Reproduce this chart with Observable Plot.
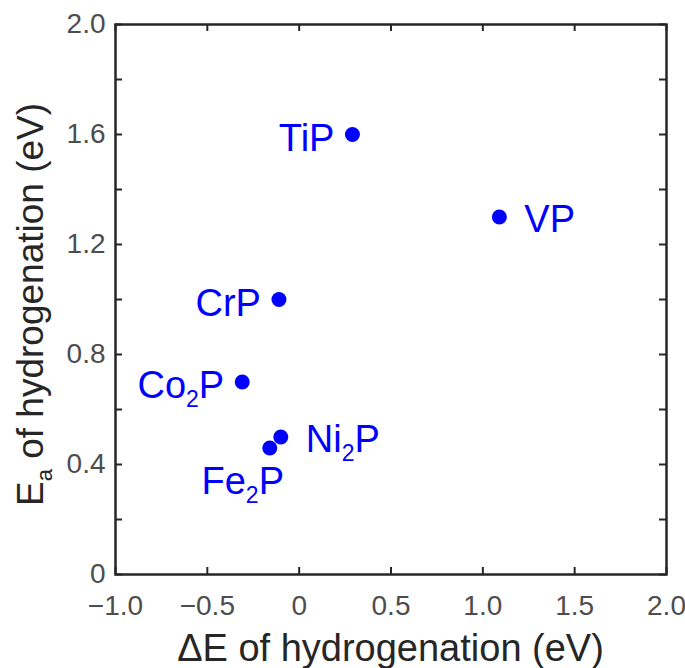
<!DOCTYPE html>
<html>
<head>
<meta charset="utf-8">
<script src="https://cdn.jsdelivr.net/npm/d3@7"></script>
<script src="https://cdn.jsdelivr.net/npm/@observablehq/plot@0.6"></script>
<style>
  html, body { margin: 0; padding: 0; background: #fff; }
  svg { display: block; }
</style>
</head>
<body>
<div id="chart"></div>
<script>
// Data
const names = ["TiP", "VP", "CrP", "Co₂P", "Ni₂P", "Fe₂P"];
const deltaE = [0.29, 1.09, -0.11, -0.31, -0.10, -0.16];
const activationE = [1.60, 1.30, 1.00, 0.70, 0.50, 0.46];

const xTicks = [-1.0, -0.5, 0, 0.5, 1.0, 1.5, 2.0];
const yTicks = [0, 0.2, 0.4, 0.6, 0.8, 1.0, 1.2, 1.4, 1.6, 1.8, 2.0];
const yTickLabels = [0, 0.4, 0.8, 1.2, 1.6, 2.0];

const xTitle = "ΔE of hydrogenation (eV)";
const yTitleMain = "E";
const yTitleSub = "a";
const yTitleRest = " of hydrogenation (eV)";

const leftLabels = ["TiP", "CrP", "Co₂P"];
const rightLabels = ["VP", "Ni₂P"];
const belowLabels = ["Fe₂P"];

const points = names.map((n, i) => ({name: n, x: deltaE[i], y: activationE[i]}));

const fmtX = d => d === 0 ? "0" : (d < 0 ? "\u2212" : "") + Math.abs(d).toFixed(1);
const fmtY = d => d === 0 ? "0" : d.toFixed(1);

const FONT = "'Liberation Sans', Arial, Helvetica, sans-serif";
const AXIS = "#262626";
const TICKTXT = "#4d4d4d";
const BLUE = "#0000ff";
const LABEL_SIZE = 38;
const TICK_SIZE = 28;

const W = 685, H = 668;
const mL = 115, mR = 19, mT = 24, mB = 94;
const plotW = W - mL - mR, plotH = H - mT - mB;
const TL = 7; // inward tick length

const chart = Plot.plot({
  width: W,
  height: H,
  marginLeft: mL,
  marginRight: mR,
  marginTop: mT,
  marginBottom: mB,
  style: {fontFamily: FONT, background: "#fff", overflow: "visible"},
  x: {domain: [-1, 2]},
  y: {domain: [0, 2]},
  marks: [
    // inward ticks on all four sides
    Plot.tickX(xTicks, {x: d => d, insetTop: plotH - TL, stroke: AXIS, strokeWidth: 2}),
    Plot.tickX(xTicks, {x: d => d, insetBottom: plotH - TL, stroke: AXIS, strokeWidth: 2}),
    Plot.tickY(yTicks, {y: d => d, insetRight: plotW - TL, stroke: AXIS, strokeWidth: 2}),
    Plot.tickY(yTicks, {y: d => d, insetLeft: plotW - TL, stroke: AXIS, strokeWidth: 2}),
    // tick labels
    Plot.axisX(xTicks, {anchor: "bottom", tickSize: 0, tickPadding: 21, tickFormat: fmtX, label: null, fontSize: TICK_SIZE, fill: TICKTXT}),
    Plot.axisY(yTickLabels, {anchor: "left", tickSize: 0, tickPadding: 10, tickFormat: fmtY, label: null, fontSize: TICK_SIZE, fill: TICKTXT}),
    Plot.frame({stroke: AXIS, strokeWidth: 2.5}),
    Plot.dot(points, {x: "x", y: "y", r: 7.5, fill: BLUE, stroke: "none"}),
    Plot.text(points.filter(d => leftLabels.includes(d.name)), {
      x: "x", y: "y", text: "name", textAnchor: "end", dx: -18, dy: 4,
      fill: BLUE, fontSize: LABEL_SIZE, className: "ptlabel"
    }),
    Plot.text(points.filter(d => rightLabels.includes(d.name)), {
      x: "x", y: "y", text: "name", textAnchor: "start", dx: 25, dy: 3,
      fill: BLUE, fontSize: LABEL_SIZE, className: "ptlabel"
    }),
    Plot.text(points.filter(d => belowLabels.includes(d.name)), {
      x: "x", y: "y", text: "name", textAnchor: "middle", dx: -27, dy: 34,
      fill: BLUE, fontSize: LABEL_SIZE, className: "ptlabel"
    })
  ]
});

document.getElementById("chart").appendChild(chart);

// Subscripts in point labels
const svg = d3.select(chart);
svg.selectAll(".ptlabel text").each(function() {
  const t = d3.select(this);
  const s = t.text();
  if (s.includes("₂")) {
    const [a, b] = s.split("₂");
    t.text(null);
    t.append("tspan").text(a);
    t.append("tspan").attr("font-size", 23).attr("dy", 9).text("2");
    t.append("tspan").attr("dy", -9).text(b);
  }
});

// Axis titles
const cx = mL + plotW / 2;
svg.append("text")
  .attr("x", cx).attr("y", 661)
  .attr("text-anchor", "middle")
  .attr("font-family", FONT).attr("font-size", LABEL_SIZE)
  .attr("fill", AXIS)
  .text(xTitle);

const yt = svg.append("text")
  .attr("transform", `translate(43,506) rotate(-90)`)
  .attr("text-anchor", "start")
  .attr("font-family", FONT).attr("font-size", 37)
  .attr("fill", AXIS);
yt.append("tspan").text(yTitleMain);
yt.append("tspan").attr("font-size", 22).attr("dy", 9).text(yTitleSub);
yt.append("tspan").attr("dy", -9).text(yTitleRest);
</script>
</body>
</html>
